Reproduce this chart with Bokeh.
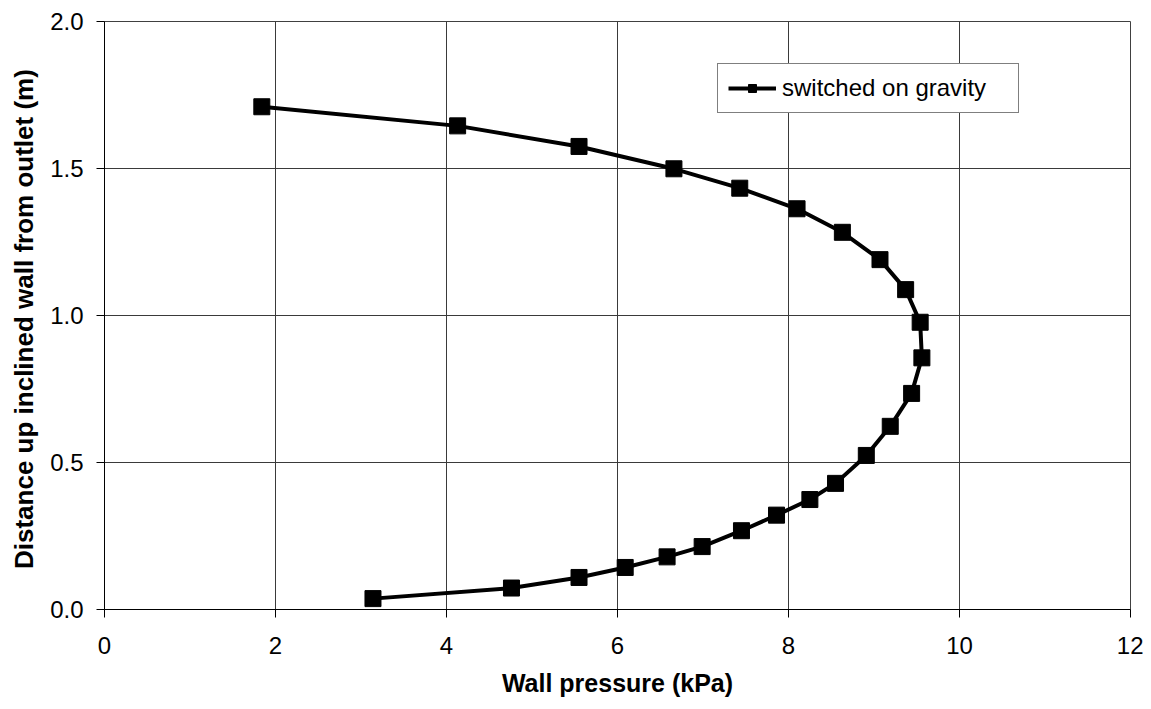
from bokeh.plotting import figure
from bokeh.models import Range1d, FixedTicker, Legend, LegendItem, NumeralTickFormatter
from bokeh.embed import file_html
from bokeh.resources import INLINE

# ---- data ----
series_name = "switched on gravity"
pressure_kpa = [1.84, 4.13, 5.55, 6.66, 7.43, 8.10, 8.63, 9.07, 9.37, 9.54,
                9.56, 9.44, 9.19, 8.91, 8.55, 8.25, 7.86, 7.45, 6.99, 6.58,
                6.09, 5.55, 4.76, 3.14]
distance_m = [1.710, 1.645, 1.575, 1.499, 1.433, 1.363, 1.283, 1.190, 1.088, 0.977,
              0.856, 0.735, 0.623, 0.524, 0.429, 0.374, 0.321, 0.268, 0.214, 0.179,
              0.143, 0.109, 0.073, 0.037]
x_ticks = [0, 2, 4, 6, 8, 10, 12]
y_ticks = [0.0, 0.5, 1.0, 1.5, 2.0]
x_title = "Wall pressure (kPa)"
y_title = "Distance up inclined wall from outlet  (m)"

FONT = "Liberation Sans"
TICK_SIZE = "24px"

p = figure(width=1143, height=701, output_backend="svg", toolbar_location=None,
           x_range=Range1d(0, 12), y_range=Range1d(0, 2))
p.min_border_left = 104
p.min_border_right = 13
p.min_border_top = 21
p.min_border_bottom = 92

p.background_fill_color = "white"
p.border_fill_color = "white"
p.outline_line_color = "#404040"
p.outline_line_width = 1

for ax in (p.xaxis[0], p.yaxis[0]):
    ax.axis_line_color = "black"
    ax.axis_line_width = 1
    ax.major_tick_line_color = "black"
    ax.major_tick_out = 8
    ax.major_tick_in = 0
    ax.minor_tick_line_color = None
    ax.major_label_text_font = FONT
    ax.major_label_text_font_size = TICK_SIZE
    ax.major_label_text_color = "black"
    ax.axis_label_text_font = FONT
    ax.axis_label_text_font_style = "bold"
    ax.axis_label_text_color = "black"

p.xaxis.axis_label_text_font_size = "25px"
p.yaxis.axis_label_text_font_size = "26px"
p.xaxis.ticker = FixedTicker(ticks=x_ticks)
p.yaxis.ticker = FixedTicker(ticks=y_ticks)
p.yaxis.formatter = NumeralTickFormatter(format="0.0")
p.xaxis.axis_label = x_title
p.yaxis.axis_label = y_title
p.xaxis.major_label_standoff = 19
p.yaxis.major_label_standoff = 13
p.xaxis.axis_label_standoff = 12
p.yaxis.axis_label_standoff = 8

p.xgrid.ticker = FixedTicker(ticks=x_ticks)
p.ygrid.ticker = FixedTicker(ticks=y_ticks)
for g in (p.xgrid[0], p.ygrid[0]):
    g.grid_line_color = "#3a3a3a"
    g.grid_line_width = 1

line_r = p.line(pressure_kpa, distance_m, line_color="black", line_width=4)
pts_r = p.scatter(pressure_kpa, distance_m, marker="square", size=16,
                  fill_color="black", line_color="black")

legend = Legend(items=[LegendItem(label=series_name, renderers=[line_r, pts_r])],
                location=(613, 496))
legend.label_text_font = FONT
legend.label_text_font_size = TICK_SIZE
legend.label_text_color = "black"
legend.border_line_color = "black"
legend.border_line_width = 1
legend.background_fill_color = "white"
legend.background_fill_alpha = 1
legend.padding = 10
legend.margin = 0
legend.glyph_width = 48
legend.glyph_height = 20
legend.label_height = 20
legend.label_standoff = 6
legend.label_width = 226
p.add_layout(legend)

open("out.html", "w").write(file_html(p, INLINE))
